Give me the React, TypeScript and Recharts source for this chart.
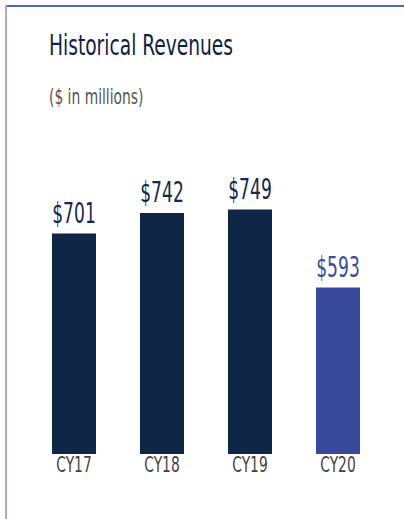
import React from 'react';
import { BarChart, Bar, XAxis, YAxis, Cell, LabelList } from 'recharts';

const years = ['CY17', 'CY18', 'CY19', 'CY20'];
const revenues = [701, 742, 749, 593];
const valueLabels = ['$701', '$742', '$749', '$593'];

const barColors = ['#0f2647', '#0f2647', '#0f2647', '#394a9d'];
const labelColors = ['#14284b', '#14284b', '#14284b', '#3a4ca0'];

const data = years.map((year, i) => ({
  year,
  revenue: revenues[i],
  label: valueLabels[i],
}));

const narrow = "'DejaVu Sans Condensed', 'DejaVu Sans', sans-serif";

// svg text squeezed horizontally, the original uses a condensed DIN-like face
function Squeezed({ x, y, sx, children, ...rest }: any) {
  return (
    <text transform={`translate(${x},${y}) scale(${sx},1)`} textAnchor="middle" fontFamily={narrow} {...rest}>
      {children}
    </text>
  );
}

function ValueLabel(props: any) {
  const { x, y, width, value, index } = props;
  const i = typeof index === 'number' ? index : valueLabels.indexOf(value);
  return (
    <Squeezed x={x + width / 2} y={y - 11} sx={0.68} fontSize={28} fill={labelColors[i] ?? '#14284b'}>
      {value}
    </Squeezed>
  );
}

function YearTick(props: any) {
  const { x, y, payload } = props;
  return (
    <Squeezed x={x} y={y + 18} sx={0.7} fontSize={22} fill="#444444">
      {payload.value}
    </Squeezed>
  );
}

export default function App() {
  return (
    <div style={{ position: 'absolute', left: 0, top: 0, width: 404, height: 519, background: '#fff', overflow: 'hidden' }}>
      <div style={{ position: 'absolute', left: 5, top: 5, right: 0, height: 2, background: '#4c66bb' }} />
      <div style={{ position: 'absolute', left: 5, top: 5, bottom: 0, width: 2, background: '#a3acda' }} />
      <div
        style={{
          position: 'absolute',
          left: 49,
          top: 29,
          fontFamily: narrow,
          fontSize: 28,
          color: '#0f2244',
          whiteSpace: 'nowrap',
          transform: 'scaleX(0.74)',
          transformOrigin: 'left top',
          lineHeight: '34px',
        }}
      >
        Historical Revenues
      </div>
      <div
        style={{
          position: 'absolute',
          left: 49,
          top: 86,
          fontFamily: narrow,
          fontSize: 22,
          color: '#555555',
          whiteSpace: 'nowrap',
          transform: 'scaleX(0.7)',
          transformOrigin: 'left top',
          lineHeight: '22px',
        }}
      >
        ($ in millions)
      </div>
      <div style={{ position: 'absolute', left: 0, top: 0 }}>
        <BarChart
          width={404}
          height={519}
          data={data}
          margin={{ top: 184, right: 22, left: 30, bottom: 35 }}
          barSize={44}
        >
          <XAxis
            dataKey="year"
            axisLine={false}
            tickLine={false}
            tickSize={0}
            tickMargin={0}
            height={30}
            tick={<YearTick />}
            interval={0}
          />
          <YAxis hide domain={[260, 800]} allowDataOverflow />
          <Bar dataKey="revenue" isAnimationActive={false}>
            {data.map((d, i) => (
              <Cell key={d.year} fill={barColors[i]} />
            ))}
            <LabelList dataKey="label" content={<ValueLabel />} />
          </Bar>
        </BarChart>
      </div>
    </div>
  );
}
